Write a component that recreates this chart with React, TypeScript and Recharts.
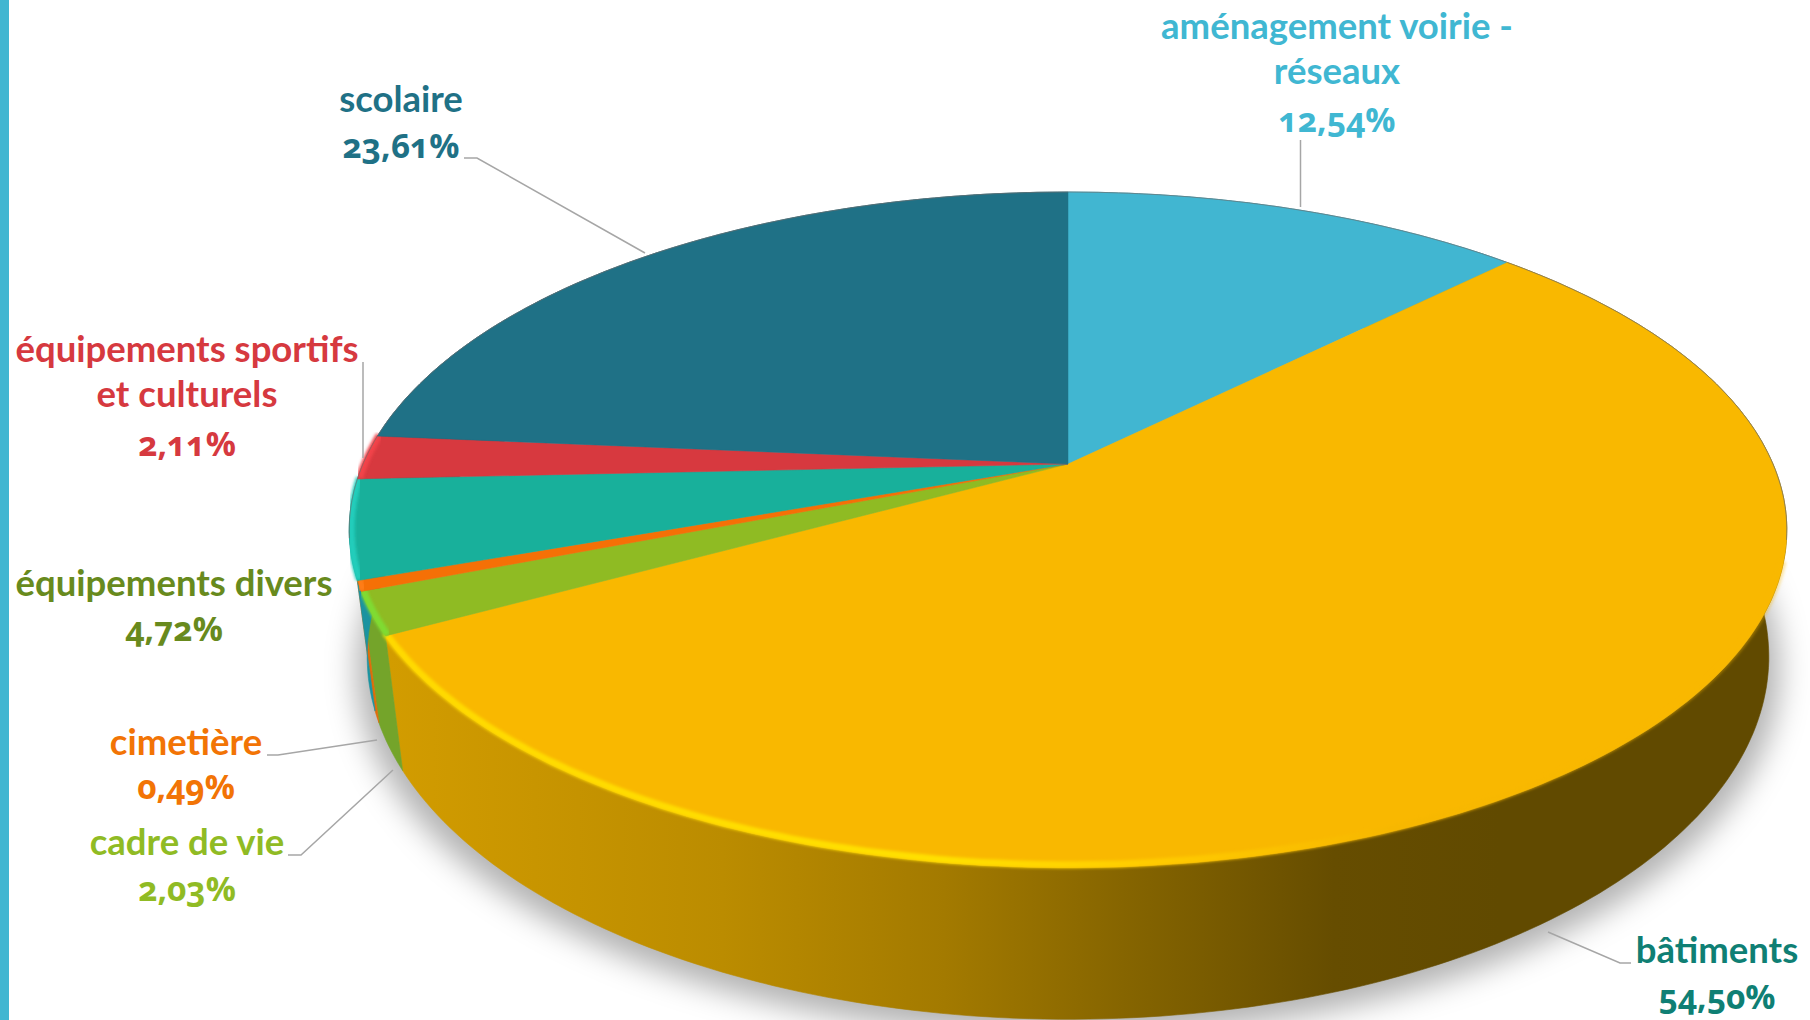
import { PieChart, Pie } from "recharts";

// values
const categories = ["aménagement voirie - réseaux", "bâtiments", "cadre de vie", "cimetière", "équipements divers", "équipements sportifs et culturels", "scolaire"];
const shares = [12.54, 54.5, 2.03, 0.49, 4.72, 2.11, 23.61];
const labelRows = [["aménagement voirie -", "réseaux"], ["bâtiments"], ["cadre de vie"], ["cimetière"], ["équipements divers"], ["équipements sportifs", "et culturels"], ["scolaire"]];

const topColors = ["#41b6d1", "#f9b800", "#8fbb23", "#f57006", "#18b09b", "#d7393f", "#1f7186"];
const wallColors = ["#2c8ba1", "url(#wallBat)", "#74a42a", "#e06c08", "#1b93a0", "#a52b30", "#175566"];
const rimColors = ["none", "url(#rimBat)", "#7fdc30", "#ff7d12", "#20cdbb", "#f2434a", "none"];
const textColors = ["#40b7d2", "#0f7f74", "#90bb24", "#f27405", "#688a1d", "#d6393f", "#1f7186"];

// label placement: centre x, baseline of each line, then the leader line
const labelX = [1337, 1717, 187, 186, 174, 187, 401];
const labelY = [[39, 84, 132], [963, 1009], [855, 901], [755, 799], [596, 641], [362, 407, 456], [112, 158]];
const leaders = [
  "M1300.5 140V207",
  "M1548 932L1620 963H1631",
  "M288 855H301L393 770",
  "M267 755H278L377 740",
  "",
  "M363 362V458",
  "M464 158H477L645 253",
];

const rows = categories.map((name, i) => ({ name, value: shares[i] }));

const KEYSTONE = 0.195; // perspective of the disc
const TILT = 0.461;
const DEPTH = 122;

const project = (p: any, angle: number, lower = false) => {
  const rad = (angle * Math.PI) / 180;
  const u = Math.cos(rad);
  const v = -Math.sin(rad);
  const w = 1 - KEYSTONE * v;
  const x = (p.outerRadius * u) / w;
  const y = p.cy + (p.outerRadius * TILT * v) / w;
  if (lower) return [p.cx + x * 0.975, y + DEPTH / w];
  return [p.cx + x, y];
};

const arcPoints = (p: any, lower = false) => {
  const steps = Math.max(2, Math.ceil(Math.abs(p.endAngle - p.startAngle)));
  const pts: number[][] = [];
  for (let i = 0; i <= steps; i++) {
    pts.push(project(p, p.startAngle + ((p.endAngle - p.startAngle) * i) / steps, lower));
  }
  return pts;
};

const toPath = (pts: number[][]) => pts.map((q, i) => `${i ? "L" : "M"}${q[0].toFixed(1)} ${q[1].toFixed(1)}`).join("");

const WallShape = (p: any) => {
  const i = categories.indexOf(p.name);
  const top = arcPoints(p);
  const low = arcPoints(p, true).reverse();
  return <path d={toPath([...top, ...low]) + "Z"} fill={wallColors[i]} stroke={wallColors[i]} strokeWidth={0.6} />;
};

const TopShape = (p: any) => {
  const i = categories.indexOf(p.name);
  const arc = arcPoints(p);
  const backArc = arc.filter((q) => q[1] < 540);
  // the big slice only gets its bright edge along the front
  const rim = i === 1 ? arc.filter((q) => q[1] > 560) : arc;
  return (
    <g>
      <path d={`M${p.cx} ${p.cy}` + toPath(arc).replace("M", "L") + "Z"} fill={topColors[i]} stroke={topColors[i]} strokeWidth={0.5} />
      {rimColors[i] !== "none" && (
        <path d={toPath(rim)} fill="none" stroke={rimColors[i]} strokeWidth={7} filter="url(#soft)" transform={i === 1 ? "translate(0 -3)" : "translate(2 -1)"} />
      )}
      {backArc.length > 1 && <path d={toPath(backArc)} fill="none" stroke="#6f6f6f" strokeOpacity={0.65} strokeWidth={1} />}
    </g>
  );
};

const renderLabel = (p: any) => {
  const i = categories.indexOf(p.name);
  const names = labelRows[i];
  const percent = shares[i].toFixed(2).replace(".", ",") + "%";
  return (
    <g key={p.name}>
      {leaders[i] && <path d={leaders[i]} fill="none" stroke="#a6a6a6" strokeWidth={1.5} />}
      <text textAnchor="middle" fill={textColors[i]} fontFamily="Lato, sans-serif" fontWeight={700} fontSize={36.5}>
        {names.map((line, k) => (
          <tspan key={k} x={labelX[i]} y={labelY[i][k]}>
            {line}
          </tspan>
        ))}
      </text>
      <text
        x={labelX[i]}
        y={labelY[i][names.length]}
        textAnchor="middle"
        fill={textColors[i]}
        fontFamily="'Open Sans', sans-serif"
        fontWeight={700}
        fontSize={33.5}
        style={{ fontFeatureSettings: '"onum"' }}
      >
        {percent}
      </text>
    </g>
  );
};

export default function App() {
  return (
    <div style={{ position: "absolute", left: 0, top: 0, width: 1810, height: 1020, overflow: "hidden", background: "#fff" }}>
      <div style={{ position: "absolute", left: 0, top: 0, width: 9, height: 1020, background: "#41b6d1" }} />
      <svg width={1810} height={1020} style={{ position: "absolute", left: 0, top: 0 }}>
        <defs>
          <filter id="shadow" x="-10%" y="-10%" width="120%" height="120%">
            <feGaussianBlur stdDeviation={15} />
          </filter>
        </defs>
        <ellipse cx={1068} cy={670} rx={712} ry={366} fill="#000" fillOpacity={0.3} filter="url(#shadow)" />
      </svg>
      <div style={{ position: "absolute", left: 0, top: 0 }}>
        <PieChart width={1810} height={1020} margin={{ top: 0, right: 0, bottom: 0, left: 0 }}>
          <defs>
            <linearGradient id="wallBat" gradientUnits="userSpaceOnUse" x1={390} y1={0} x2={1500} y2={0}>
              <stop offset="0" stopColor="#d29c00" />
              <stop offset="0.3" stopColor="#bb8c00" />
              <stop offset="0.5" stopColor="#a37a00" />
              <stop offset="0.66" stopColor="#866500" />
              <stop offset="0.85" stopColor="#664d00" />
              <stop offset="1" stopColor="#614a00" />
            </linearGradient>
            <linearGradient id="rimBat" gradientUnits="userSpaceOnUse" x1={390} y1={0} x2={1780} y2={0}>
              <stop offset="0" stopColor="#ffd900" />
              <stop offset="0.4" stopColor="#ffe000" />
              <stop offset="0.55" stopColor="#ffcb00" />
              <stop offset="0.72" stopColor="#f7b700" />
              <stop offset="1" stopColor="#f9b800" stopOpacity={0.35} />
            </linearGradient>
            <filter id="soft" x="-5%" y="-5%" width="110%" height="110%">
              <feGaussianBlur stdDeviation={1.6} />
            </filter>
          </defs>
          <Pie
            data={rows}
            dataKey="value"
            nameKey="name"
            cx={1068}
            cy={464}
            innerRadius={0}
            outerRadius={705}
            startAngle={90}
            endAngle={-270}
            stroke="none"
            shape={WallShape}
            label={false}
            labelLine={false}
            isAnimationActive={false}
          />
          <Pie
            data={rows}
            dataKey="value"
            nameKey="name"
            cx={1068}
            cy={464}
            innerRadius={0}
            outerRadius={705}
            startAngle={90}
            endAngle={-270}
            stroke="none"
            shape={TopShape}
            label={renderLabel}
            labelLine={false}
            isAnimationActive={false}
          />
        </PieChart>
      </div>
    </div>
  );
}
